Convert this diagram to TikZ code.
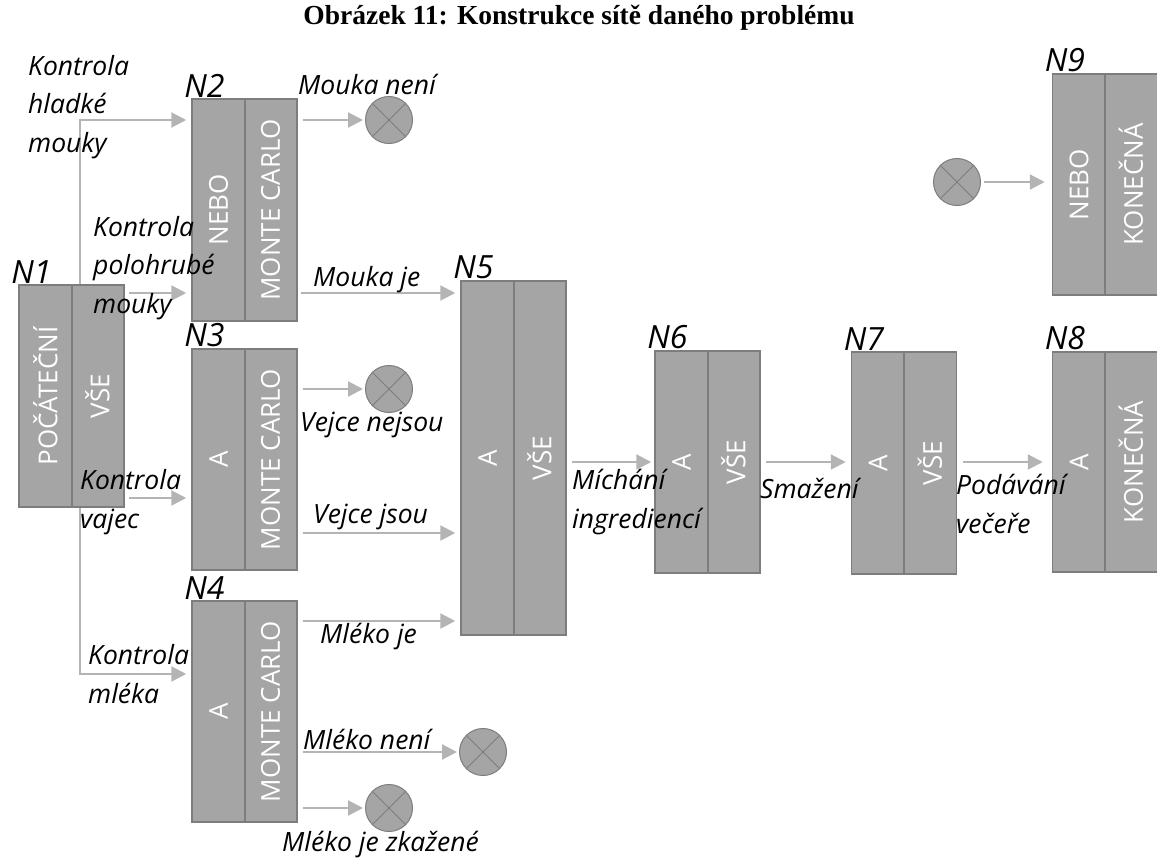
\documentclass[tikz,border=0pt]{standalone}
\usepackage{fontspec}
\setmainfont{Open Sans}
\newfontfamily\titlefont{Liberation Serif}
\usetikzlibrary{arrows.meta, calc}
\definecolor{boxgray}{RGB}{165,165,165}
\definecolor{boxline}{RGB}{125,125,125}
\definecolor{arrowgray}{RGB}{180,180,180}

\begin{document}
\begin{tikzpicture}[x=1pt, y=-1pt,
  every node/.style={font=\fontsize{26.5}{38.5}\selectfont\itshape},
  netbox/.style={draw=boxline, line width=1.5pt, fill=boxgray, minimum width=105pt, inner sep=0pt},
  boxtext/.style={rotate=90, text=white, inner sep=0pt, font=\fontsize{26}{26}\selectfont},
  nlabel/.style={anchor=south west, inner sep=0pt, xshift=-7pt, yshift=1pt, font=\fontsize{32}{32}\selectfont\itshape},
  edgelabel/.style={anchor=west, inner sep=0pt, align=left},
  sink/.style={circle, draw=boxline, line width=1pt, fill=boxgray, minimum size=47pt, inner sep=0pt},
  arr/.style={draw=arrowgray, line width=2.2pt, -{Triangle[length=15pt, width=15pt]}}]
  \useasboundingbox (0,0) rectangle (1157,859);
  \node[font=\titlefont\fontsize{27.5}{27.5}\selectfont\bfseries] (title) at (579,18) {Obrázek 11: Konstrukce sítě daného problému};

  \node[netbox, minimum height=222pt] (n1) at (71.5,396) {};
  \node[netbox, minimum height=222pt] (n2) at (244.5,210) {};
  \node[netbox, minimum height=221pt] (n3) at (244.5,459.5) {};
  \node[netbox, minimum height=221pt] (n4) at (244.5,711.5) {};
  \node[netbox, minimum height=354pt] (n5) at (513.5,458) {};
  \node[netbox, minimum height=222pt] (n6) at (707.5,462) {};
  \node[netbox, minimum height=222pt] (n7) at (904,463) {};
  \node[netbox, minimum height=220pt] (n8) at (1105,462) {};
  \node[netbox, minimum height=221pt] (n9) at (1105,184.5) {};
  \foreach \n in {n1,n2,n3,n4,n5,n6,n7,n8,n9}
    \draw[boxline, line width=2pt] (\n.north) -- (\n.south);

  \node[boxtext] (n1a) at ([xshift=-26pt]n1.center) {POČÁTEČNÍ};
  \node[boxtext] (n1b) at ([xshift=26pt]n1.center) {VŠE};
  \node[boxtext] (n2a) at ([xshift=-26pt]n2.center) {NEBO};
  \node[boxtext] (n2b) at ([xshift=26pt]n2.center) {MONTE CARLO};
  \node[boxtext] (n3a) at ([xshift=-26pt]n3.center) {A};
  \node[boxtext] (n3b) at ([xshift=26pt]n3.center) {MONTE CARLO};
  \node[boxtext] (n4a) at ([xshift=-26pt]n4.center) {A};
  \node[boxtext] (n4b) at ([xshift=26pt]n4.center) {MONTE CARLO};
  \node[boxtext] (n5a) at ([xshift=-26pt]n5.center) {A};
  \node[boxtext] (n5b) at ([xshift=26pt]n5.center) {VŠE};
  \node[boxtext] (n6a) at ([xshift=-26pt]n6.center) {A};
  \node[boxtext] (n6b) at ([xshift=26pt]n6.center) {VŠE};
  \node[boxtext] (n7a) at ([xshift=-26pt]n7.center) {A};
  \node[boxtext] (n7b) at ([xshift=26pt]n7.center) {VŠE};
  \node[boxtext] (n8a) at ([xshift=-26pt]n8.center) {A};
  \node[boxtext] (n8b) at ([xshift=26pt]n8.center) {KONEČNÁ};
  \node[boxtext] (n9a) at ([xshift=-26pt]n9.center) {NEBO};
  \node[boxtext] (n9b) at ([xshift=26pt]n9.center) {KONEČNÁ};

  \node[sink] (m2) at (389,120) {};
  \node[sink] (m3) at (389,389) {};
  \node[sink] (m4a) at (483,752) {};
  \node[sink] (m4b) at (389,808) {};
  \node[sink] (m9) at (957,182) {};
  \foreach \m in {m2,m3,m4a,m4b,m9}
    \draw[boxline, line width=1pt] (\m.north west) -- (\m.south east) (\m.north east) -- (\m.south west);

  \draw[arr, shorten >=5pt] ([xshift=8.5pt]n1.north) |- (n2.west |- m2);
  \draw[arr, shorten >=5pt] ([xshift=8.5pt]n1.south) |- (n4.west |- 0,674);
  \draw[arr, shorten <=4pt, shorten >=5pt] (n1.east |- 0,293) -- (n2.west |- 0,293);
  \draw[arr, shorten <=4pt, shorten >=5pt] (n1.east |- 0,498) -- (n3.west |- 0,498);
  \draw[arr, shorten <=5pt, shorten >=2pt] (n2.east |- m2) -- (m2.west);
  \draw[arr, shorten <=3pt, shorten >=5pt] (n2.east |- 0,293) -- (n5.west |- 0,293);
  \draw[arr, shorten <=5pt, shorten >=2pt] (n3.east |- m3) -- (m3.west);
  \draw[arr, shorten <=5pt, shorten >=5pt] (n3.east |- 0,533) -- (n5.west |- 0,533);
  \draw[arr, shorten <=5pt, shorten >=5pt] (n4.east |- 0,621) -- (n5.west |- 0,621);
  \draw[arr, shorten <=5pt, shorten >=2pt] (n4.east |- m4a) -- (m4a.west);
  \draw[arr, shorten <=5pt, shorten >=2pt] (n4.east |- m4b) -- (m4b.west);
  \draw[arr, shorten <=5pt, shorten >=3pt] (n5.east |- 0,462) -- (n6.west |- 0,462);
  \draw[arr, shorten <=5pt, shorten >=5pt] (n6.east |- 0,462) -- (n7.west |- 0,462);
  \draw[arr, shorten <=6pt, shorten >=9pt] (n7.east |- 0,462) -- (n8.west |- 0,462);
  \draw[arr, shorten <=3pt, shorten >=7pt] (m9.east) -- (n9.west |- m9);

  \node[nlabel] (n1l) at (n1.north west) {N1};
  \node[nlabel] (n2l) at (n2.north west) {N2};
  \node[nlabel] (n3l) at (n3.north west) {N3};
  \node[nlabel] (n4l) at (n4.north west) {N4};
  \node[nlabel] (n5l) at (n5.north west) {N5};
  \node[nlabel] (n6l) at (n6.north west) {N6};
  \node[nlabel] (n7l) at (n7.north west) {N7};
  \node[nlabel] (n8l) at (n8.north west) {N8};
  \node[nlabel] (n9l) at (n9.north west) {N9};

  \node[edgelabel] (hladka) at (28,107) {Kontrola\\hladké\\mouky};
  \node[edgelabel] (polohruba) at (93,268) {Kontrola\\polohrubé\\mouky};
  \node[edgelabel] (vejce) at (80,502) {Kontrola\\vajec};
  \node[edgelabel] (mleko) at (88,674) {Kontrola\\mléka};
  \node[edgelabel] (moukane) at (298,84) {Mouka není};
  \node[edgelabel] (moukaje) at (313,280) {Mouka je};
  \node[edgelabel] (vejcene) at (300,425) {Vejce nejsou};
  \node[edgelabel] (vejceje) at (313,517) {Vejce jsou};
  \node[edgelabel] (mlekoje) at (320,637) {Mléko je};
  \node[edgelabel] (mlekone) at (303,739) {Mléko není};
  \node[edgelabel] (zkazene) at (282,845) {Mléko je zkažené};
  \node[edgelabel] (michani) at (572,502) {Míchání\\ingrediencí};
  \node[edgelabel] (smazeni) at (760,488) {Smažení};
  \node[edgelabel] (podavani) at (956,504) {Podávání\\večeře};
\end{tikzpicture}
\end{document}
